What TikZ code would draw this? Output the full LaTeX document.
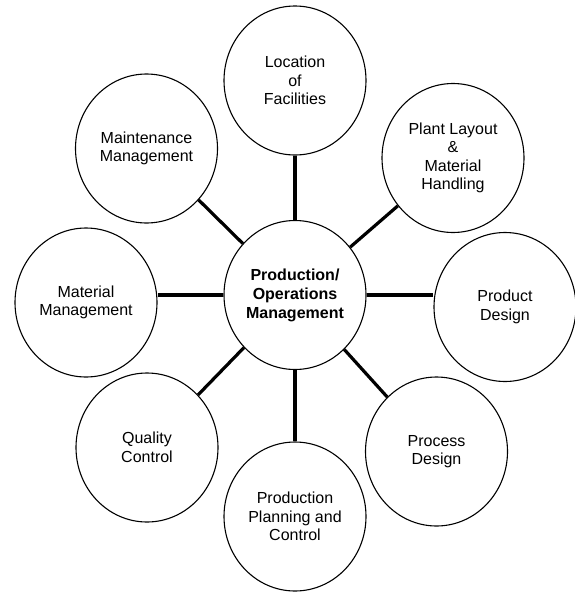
\documentclass[tikz,border=0pt]{standalone}
\usepackage{fontspec}
\setmainfont{Liberation Sans}
\usetikzlibrary{shapes.geometric}
\begin{document}
\begin{tikzpicture}[x=1pt,y=-1pt,
  bubble/.style={ellipse, draw, line width=1.1pt, minimum width=142pt, minimum height=149pt,
    inner sep=0pt, align=center, font=\fontsize{16}{18.5}\selectfont},
  hub/.style={bubble, font=\fontsize{16}{19}\selectfont\bfseries},
  link/.style={line width=3.2pt}]
\useasboundingbox (0,0) rectangle (574,592);
\node[hub] (hub) at (295,295) {Production/\\Operations\\Management};
\node[bubble] (loc) at (295,80.5) {Location\\of\\Facilities};
\node[bubble] (plant) at (453,158) {Plant Layout\\\&\\Material\\Handling};
\node[bubble] (prod) at (505,307) {Product\\Design};
\node[bubble] (proc) at (436.5,451.5) {Process\\Design};
\node[bubble] (ppc) at (295,516.5) {Production\\Planning and\\Control};
\node[bubble] (qual) at (147,447.5) {Quality\\Control};
\node[bubble] (mat) at (86,302.5) {Material\\Management};
\node[bubble] (maint) at (146.5,148.5) {Maintenance\\Management};
\foreach \t in {loc,plant,proc,ppc,qual,maint}
  \draw[link] (hub) -- (\t);
\draw[link] (hub.west) -- (hub.west -| mat.east);
\draw[link] (hub.east) -- (hub.east -| prod.west);
\end{tikzpicture}
\end{document}
